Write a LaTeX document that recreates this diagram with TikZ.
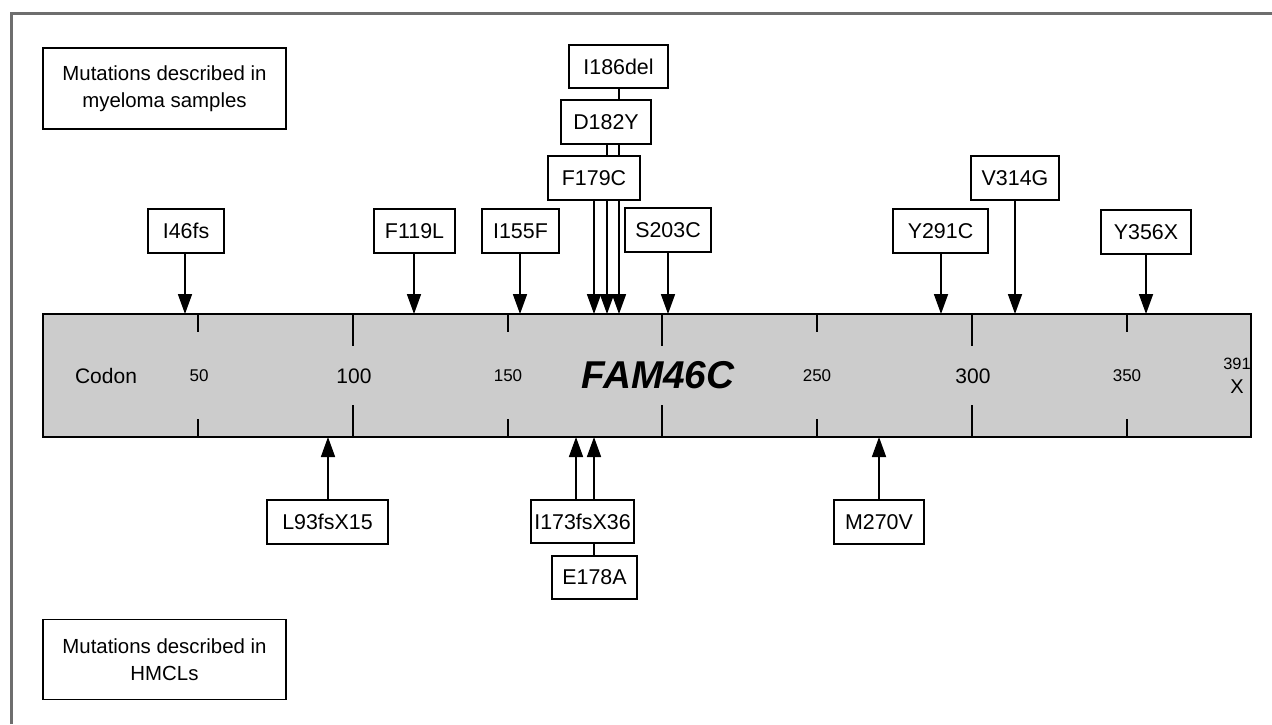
\documentclass[tikz,border=0pt]{standalone}
\usepackage{fontspec}
\setmainfont{Liberation Sans}
\usetikzlibrary{arrows.meta}
\definecolor{barg}{HTML}{CCCCCC}
\definecolor{frameg}{HTML}{6E6E6E}
\begin{document}
\begin{tikzpicture}[x=0.5pt,y=-0.5pt,
  mbox/.style={draw, fill=white, line width=0.85pt, inner sep=0pt, minimum height=22pt,
    font=\fontsize{10.7}{13.5}\selectfont, align=center},
  legbox/.style={mbox, font=\fontsize{10.2}{13.5}\selectfont},
  arr/.style={line width=0.85pt, -{Triangle[width=7pt,length=10pt]}},
  link/.style={line width=0.85pt},
  tick/.style={line width=0.9pt},
  small/.style={font=\fontsize{8.5}{10}\selectfont, inner sep=0pt},
  big/.style={font=\fontsize{10.5}{12}\selectfont, inner sep=0pt}]
\useasboundingbox (0,0) rectangle (1272,724);
% frame
\draw[frameg, line width=1.5pt] (11.5,724) -- (11.5,13) -- (1272,13);
% legend boxes
\node[legbox, minimum width=121.5pt, minimum height=40.5pt] (leg1) at (164.5,88.5) {Mutations described in\\myeloma samples};
\node[legbox, minimum width=121.5pt, minimum height=40pt] (leg2) at (164.5,659.5) {Mutations described in\\HMCLs};
% bar
\node[draw, fill=barg, line width=1pt, minimum width=604pt, minimum height=61.5pt, inner sep=0pt] (bar) at (647,375.5) {};
% ticks
\foreach \x/\l in {198/18, 353/32, 508/18, 662/32, 817/18, 972/32, 1127/18}{
  \draw[tick] (\x,314) -- (\x,314+\l);
  \draw[tick] (\x,437) -- (\x,437-\l);
}
\node[big] (codon) at (106,376) {Codon};
\node[small] (t50) at (199,376) {50};
\node[big] (t100) at (354,376) {100};
\node[small] (t150) at (508,376) {150};
\node[inner sep=0pt, font=\fontsize{19.4}{22}\bfseries\itshape] (gene) at (658,375) {FAM46C};
\node[small] (t250) at (817,376) {250};
\node[big] (t300) at (973,376) {300};
\node[small] (t350) at (1127,376) {350};
\node[inner sep=0pt, font=\fontsize{8.2}{10}\selectfont] (t391) at (1237,364) {391};
\node[inner sep=0pt, font=\fontsize{10}{12}\selectfont] (tX) at (1237,387) {X};
% target coordinates on the bar (top)
\foreach \n/\x in {a46/185, a119/414, a155/520, a179/594, a182/607, a186/619, a203/668, a291/941, a314/1015, a356/1146}{
  \coordinate (\n) at (\x,314);
}
% target coordinates on the bar (bottom)
\foreach \n/\x in {b93/328, b173/576, b178/594, b270/879}{
  \coordinate (\n) at (\x,437);
}
% upper mutation boxes
\node[mbox, minimum width=38pt] (m46) at (186,231) {I46fs};
\node[mbox, minimum width=40.5pt] (m119) at (414.5,231) {F119L};
\node[mbox, minimum width=38.5pt] (m155) at (520.5,231) {I155F};
\node[mbox, minimum width=46pt] (m179) at (594,178) {F179C};
\node[mbox, minimum width=45pt] (m182) at (606,122) {D182Y};
\node[mbox, minimum width=49.5pt, minimum height=21.5pt] (m186) at (618.5,66.5) {I186del};
\node[mbox, minimum width=43pt] (m203) at (668,230) {S203C};
\node[mbox, minimum width=47.5pt] (m291) at (940.5,231) {Y291C};
\node[mbox, minimum width=44pt] (m314) at (1015,178) {V314G};
\node[mbox, minimum width=45pt] (m356) at (1146,232) {Y356X};
% lower mutation boxes
\node[mbox, minimum width=60.5pt] (m93) at (327.5,522) {L93fsX15};
\node[mbox, minimum width=51.5pt, minimum height=21.5pt] (m173) at (582.5,521.5) {I173fsX36};
\node[mbox, minimum width=42.5pt, minimum height=21.5pt] (m178) at (594.5,577.5) {E178A};
\node[mbox, minimum width=45pt] (m270) at (879,522) {M270V};
% upper arrows
\draw[arr] (m46.south -| a46) -- (a46);
\draw[arr] (m119.south -| a119) -- (a119);
\draw[arr] (m155.south -| a155) -- (a155);
\draw[arr] (m179.south -| a179) -- (a179);
\draw[link] (m182.south -| a182) -- (m179.north -| a182);
\draw[arr] (m179.south -| a182) -- (a182);
\draw[link] (m186.south -| a186) -- (m182.north -| a186);
\draw[link] (m182.south -| a186) -- (m179.north -| a186);
\draw[arr] (m179.south -| a186) -- (a186);
\draw[arr] (m203.south -| a203) -- (a203);
\draw[arr] (m291.south -| a291) -- (a291);
\draw[arr] (m314.south -| a314) -- (a314);
\draw[arr] (m356.south -| a356) -- (a356);
% lower arrows
\draw[arr] (m93.north -| b93) -- (b93);
\draw[arr] (m173.north -| b173) -- (b173);
\draw[link] (m178.north -| b178) -- (m173.south -| b178);
\draw[arr] (m173.north -| b178) -- (b178);
\draw[arr] (m270.north -| b270) -- (b270);
\end{tikzpicture}
\end{document}
